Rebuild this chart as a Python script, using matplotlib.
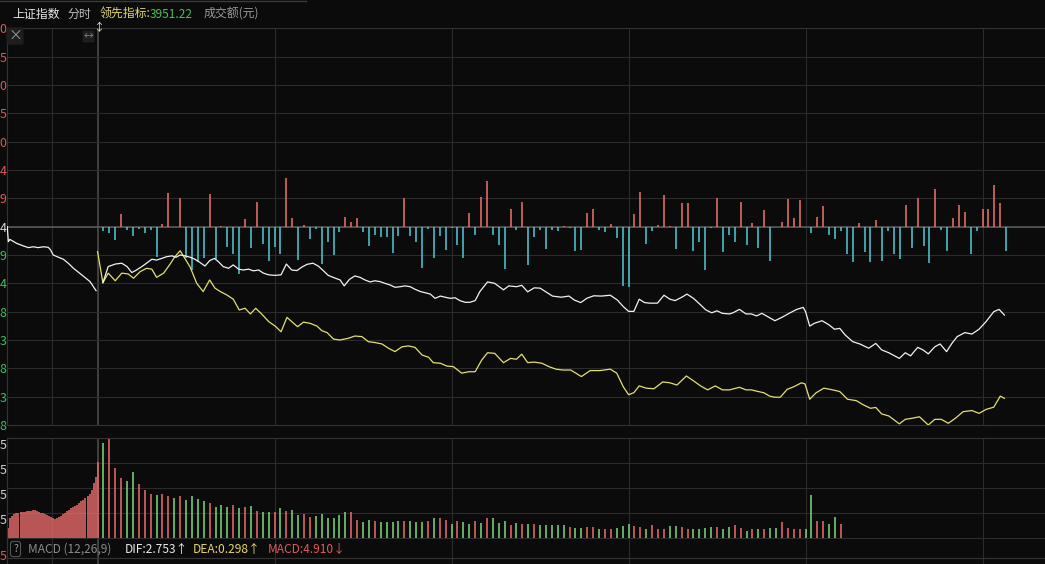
import numpy as np
import matplotlib
matplotlib.use("Agg")
import matplotlib.pyplot as plt
from matplotlib.lines import Line2D

plt.rcParams['font.family'] = ['Noto Sans CJK SC', 'DejaVu Sans']

W, H = 1045, 564
BG = '#0b0b0b'
GRID = '#2b2b2b'
RED = '#e8706a'
CYAN = '#4ec4d0'
MRED = '#ee6e6e'
MGREEN = '#7fd87f'

PX_PER_MIN = 5.9          # today's session: one minute per 5.9 px
PREV_SPAN = 15.3          # previous session squeezed into this many minute-widths


def prev_x(m):
    return -PREV_SPAN + np.asarray(m, dtype=float) * PREV_SPAN / 240.0


# ---- data ----
# previous session line: (minute of session, deviation in grid steps)
prev_line = [(0, 0.0), (2.7, -0.53), (7, -0.45), (25, -0.59), (42.6, -0.68), (56, -0.74),
             (69, -0.71), (82, -0.74), (96, -0.71), (109, -0.73), (115, -0.82), (122, -1.0),
             (136, -1.08), (149, -1.15), (162, -1.29), (176, -1.47), (193, -1.65), (209, -1.82),
             (220, -1.94), (229, -2.12), (236, -2.26)]

# today, price (white)
white_line = [
    (0.9, -1.98), (1.8, -1.41), (3.0, -1.32), (4.1, -1.29), (5.0, -1.41), (5.8, -1.62),
    (6.6, -1.53), (7.5, -1.41), (8.3, -1.29), (9.2, -1.15), (10.0, -1.18), (10.9, -1.12),
    (11.7, -1.06), (12.6, -1.03), (13.3, -1.08), (14.0, -1.00), (14.8, -1.03), (15.7, -1.08),
    (16.5, -1.15), (17.4, -1.27), (18.2, -1.39), (19.0, -1.20), (19.8, -1.12), (20.5, -1.24),
    (21.3, -1.41), (22.2, -1.47), (23.0, -1.35), (23.9, -1.50), (24.7, -1.53), (25.6, -1.50),
    (26.4, -1.56), (27.3, -1.53), (28.1, -1.64), (29.0, -1.70), (30.0, -1.72), (31.1, -1.70),
    (32.0, -1.32), (32.9, -1.53), (33.8, -1.55), (34.6, -1.43), (35.5, -1.33), (36.5, -1.29),
    (37.4, -1.39), (38.3, -1.56), (39.1, -1.72), (40.3, -1.82), (41.1, -1.88), (41.8, -2.09),
    (42.7, -1.86), (43.6, -1.74), (44.5, -1.79), (45.3, -1.88), (46.2, -1.95), (47.0, -1.91),
    (47.9, -1.94), (48.7, -2.00), (49.6, -2.06), (50.4, -2.14), (51.3, -2.12), (52.1, -2.09),
    (53.0, -2.12), (53.8, -2.21), (54.7, -2.29), (55.5, -2.33), (56.4, -2.38), (57.2, -2.53),
    (58.1, -2.45), (58.9, -2.49), (59.8, -2.53), (60.6, -2.51), (61.4, -2.61), (62.3, -2.67),
    (63.1, -2.67), (64.0, -2.61), (64.8, -2.29), (66.1, -1.95), (67.3, -2.00), (68.8, -2.23),
    (69.7, -2.09), (71.0, -2.12), (71.9, -2.07), (72.9, -2.30), (74.0, -2.16), (75.0, -2.17),
    (75.9, -2.29), (77.1, -2.45), (78.6, -2.49), (79.9, -2.45), (80.8, -2.59), (81.9, -2.68),
    (82.9, -2.53), (84.1, -2.44), (85.4, -2.45), (86.9, -2.42), (88.1, -2.59), (89.1, -2.82),
    (90.0, -2.99), (90.9, -2.99), (91.8, -2.56), (92.7, -2.68), (93.6, -2.70), (94.9, -2.70),
    (96.0, -2.42), (97.0, -2.56), (97.9, -2.61), (99.2, -2.47), (99.9, -2.38), (101.0, -2.53),
    (102.2, -2.76), (103.1, -2.94), (104.1, -3.04), (105.0, -2.97), (105.9, -3.06), (107.1, -3.08),
    (107.7, -3.04), (108.8, -2.92), (109.9, -3.08), (110.8, -3.08), (111.7, -3.15), (112.6, -3.06),
    (113.6, -3.18), (114.8, -3.32), (116.0, -3.20), (117.2, -3.06), (118.5, -2.92), (119.6, -2.85),
    (120.0, -3.00), (120.7, -3.51), (121.5, -3.41), (122.8, -3.32), (124.0, -3.47), (124.9, -3.62),
    (125.8, -3.59), (126.7, -3.82), (128.0, -4.06), (129.2, -4.14), (130.7, -4.29), (131.9, -4.12),
    (132.9, -4.35), (134.1, -4.45), (135.9, -4.65), (136.9, -4.45), (137.8, -4.56), (139.0, -4.26),
    (139.9, -4.35), (140.8, -4.49), (141.9, -4.24), (142.8, -4.14), (143.9, -4.41), (144.8, -4.12),
    (145.7, -3.88), (147.0, -3.74), (148.2, -3.79), (149.4, -3.62), (150.6, -3.35), (151.9, -3.00),
    (152.8, -2.92), (153.7, -3.12)]

# today, leading indicator (yellow)
yellow_line = [
    (0, -0.88), (0.9, -1.98), (1.8, -1.64), (3.0, -1.91), (4.1, -1.64), (5.2, -1.67), (6.1, -1.82),
    (7.2, -1.59), (8.3, -1.47), (9.2, -1.50), (10.0, -1.79), (11.2, -1.64), (12.3, -1.32),
    (13.1, -1.06), (14.0, -0.85), (14.8, -1.12), (15.7, -1.43), (16.8, -2.00), (17.9, -2.29),
    (19.0, -1.88), (19.9, -2.17), (20.8, -2.29), (21.9, -2.41), (23.0, -2.56), (24.0, -2.94),
    (25.0, -2.88), (25.9, -3.08), (26.8, -2.88), (27.8, -3.08), (29.0, -3.35), (30.1, -3.51),
    (31.1, -3.71), (32.1, -3.20), (32.9, -3.35), (33.9, -3.53), (34.9, -3.37), (36.0, -3.41),
    (37.2, -3.51), (38.0, -3.67), (38.9, -3.74), (40.0, -3.97), (41.1, -4.00), (42.5, -3.94),
    (43.6, -3.86), (44.8, -3.88), (45.9, -4.06), (47.0, -4.09), (48.2, -4.14), (49.3, -4.29),
    (50.4, -4.41), (51.6, -4.24), (52.7, -4.21), (53.8, -4.26), (55.0, -4.53), (56.1, -4.61),
    (56.9, -4.80), (58.1, -4.82), (59.2, -4.92), (60.3, -4.94), (61.7, -5.17), (62.9, -5.12),
    (64.0, -5.12), (65.1, -4.71), (66.1, -4.45), (67.3, -4.47), (68.8, -4.80), (70.0, -4.65),
    (71.0, -4.68), (71.9, -4.50), (72.9, -4.80), (74.0, -4.78), (75.3, -4.82), (76.5, -4.94),
    (77.7, -5.03), (78.9, -5.06), (80.2, -5.06), (82.0, -5.29), (83.5, -5.08), (85.1, -5.08),
    (86.9, -5.03), (88.0, -5.17), (89.1, -5.65), (90.0, -5.93), (90.9, -5.86), (91.8, -5.62),
    (93.0, -5.70), (94.3, -5.72), (95.8, -5.48), (97.0, -5.51), (98.2, -5.59), (99.8, -5.27),
    (101.0, -5.44), (102.2, -5.62), (103.4, -5.76), (104.7, -5.62), (105.9, -5.76), (107.1, -5.76),
    (108.8, -5.67), (109.9, -5.76), (110.8, -5.76), (112.0, -5.82), (112.9, -5.86), (113.9, -5.98),
    (114.8, -6.02), (115.7, -6.02), (116.9, -5.74), (118.0, -5.65), (119.3, -5.51), (119.9, -5.55),
    (120.7, -6.09), (121.8, -5.86), (123.1, -5.70), (124.6, -5.76), (125.8, -5.82), (127.1, -6.09),
    (128.6, -6.14), (129.8, -6.29), (131.0, -6.41), (131.9, -6.38), (132.9, -6.61), (134.1, -6.68),
    (135.9, -6.96), (136.9, -6.80), (138.1, -6.76), (139.3, -6.71), (140.8, -7.00), (141.9, -6.80),
    (143.0, -6.80), (144.2, -6.94), (145.4, -6.76), (146.7, -6.53), (148.2, -6.49), (149.4, -6.59),
    (150.6, -6.45), (151.9, -6.37), (153.0, -5.98), (153.7, -6.06)]

# per-minute bars in the main panel, minutes 1..154
flow_bars = [
    -0.14, -0.21, -0.46, 0.45, -0.11, -0.32, -0.07, -0.21, -0.11, -1.08,
    0.10, 1.20, -0.02, 1.02, -1.09, -1.52, -1.26, -1.09, 1.15, -1.13,
    0.04, -0.71, -0.95, -1.66, 0.26, -0.77, 0.88, -0.60, -1.20, -0.71,
    -0.96, 1.73, 0.29, -1.19, 0.06, -0.45, -0.08, -1.33, -0.54, -0.99,
    -0.18, 0.34, 0.17, 0.29, -0.18, -0.67, -0.29, -0.35, -0.38, -0.92,
    -0.33, 1.00, -0.33, -0.53, -1.45, -0.10, -1.09, -0.33, -0.84, -0.04,
    -0.65, -1.09, 0.49, -0.29, 1.05, 1.62, -0.29, -0.65, -1.49, 0.62,
    -0.12, 0.88, -1.35, -0.35, -0.12, -0.79, -0.12, -0.14, 0.04, -0.06,
    -0.86, -0.82, 0.49, 0.62, -0.12, -0.18, 0.10, -0.39, -2.08, -2.12,
    0.45, 1.24, -0.61, -0.15, 0.06, 1.12, 0.02, -0.79, 0.84, 0.84,
    -0.86, -0.54, -1.53, -0.06, 1.01, -0.89, -0.29, -0.54, 0.87, -0.66,
    0.12, -0.77, 0.59, -1.21, 0.00, 0.17, 0.96, 0.29, 0.93, 0.00,
    -0.21, 0.34, 0.73, -0.31, -0.45, -0.15, -0.98, -1.25, 0.12, -0.89,
    -1.25, 0.22, -1.21, -0.15, -0.98, -1.13, 0.75, -0.77, 1.01, -0.68,
    -1.27, 1.32, -0.13, -0.86, 0.31, 0.77, 0.52, -0.98, -0.15, 0.61,
    0.61, 1.47, 0.82, -0.86]

# MACD histogram, previous session (all red)
prev_macd = [0.54, 1.00, 1.13, 1.20, 1.25, 1.28, 1.30, 1.31, 1.33, 1.34, 1.35, 1.36, 1.40, 1.39,
             1.35, 1.33, 1.28, 1.25, 1.20, 1.15, 1.10, 1.05, 1.01, 0.99, 1.03, 1.08, 1.13, 1.20,
             1.28, 1.35, 1.43, 1.50, 1.56, 1.63, 1.68, 1.75, 1.84, 1.93, 2.00, 2.13, 2.23, 2.40,
             2.75, 3.06, 3.79]
prev_macd_min = np.arange(len(prev_macd)) * 5.4 + 2.7

# MACD histogram, today minutes 1..126
macd = [
    4.76, 5.00, 3.51, 3.01, 2.85, 3.30, 2.70, 2.41, 2.21, 2.14,
    2.21, 2.09, 2.01, 2.10, 1.89, 2.11, 1.96, 1.84, 1.76, 1.55,
    1.66, 1.55, 1.64, 1.50, 1.55, 1.60, 1.35, 1.30, 1.30, 1.30,
    1.50, 1.35, 1.40, 1.16, 1.21, 1.05, 1.10, 1.21, 1.00, 1.00,
    1.16, 1.30, 1.30, 0.94, 0.84, 0.94, 0.89, 0.80, 0.80, 0.80,
    0.89, 0.85, 0.85, 0.80, 0.84, 0.89, 1.00, 1.00, 0.94, 0.70,
    0.89, 0.84, 0.70, 0.89, 0.79, 1.00, 1.00, 0.79, 0.89, 0.66,
    0.79, 0.71, 0.70, 0.74, 0.66, 0.66, 0.65, 0.66, 0.66, 0.59,
    0.54, 0.54, 0.59, 0.59, 0.45, 0.45, 0.49, 0.54, 0.64, 0.71,
    0.64, 0.55, 0.49, 0.66, 0.45, 0.49, 0.61, 0.60, 0.59, 0.49,
    0.49, 0.45, 0.54, 0.56, 0.59, 0.46, 0.59, 0.66, 0.54, 0.36,
    0.46, 0.46, 0.46, 0.50, 0.54, 0.84, 0.54, 0.45, 0.45, 0.46,
    2.14, 0.89, 0.89, 0.71, 1.05, 0.71]
macd_side = ("grrrggrrrg" "rrgrggggrg" "ggrgrgrggr" "grggrrgggg" "ggrrggrggg"
             "grgggrgrrg" "rggrgrgggr" "grgrgggggr" "ggrrgrrggg" "rrgrrrggrr"
             "ggggrggrrg" "rgrggrrrrg" "grrggr")

# only the last digit of each scale label is left inside the picture
price_labels = ['0', '5', '0', '5', '0', '4', '9', '4', '9', '4', '8', '3', '8', '3', '8']
macd_labels = ['5', '5', '5', '5']

# ---- figure ----
fig = plt.figure(figsize=(W / 100, H / 100), dpi=100, facecolor=BG)


def px_rect(x0, y0, x1, y1):
    return [x0 / W, 1 - y1 / H, (x1 - x0) / W, (y1 - y0) / H]


t_left = -PREV_SPAN
t_right = t_left + (W - 7.3) / PX_PER_MIN
vgrid = [float(prev_x(120)), 30, 60, 90, 120, 150]

ax = fig.add_axes(px_rect(7.3, 28.3, W, 425))
axm = fig.add_axes(px_rect(7.3, 438.3, W, H))

for a in (ax, axm):
    a.set_facecolor(BG)
    a.set_xlim(t_left, t_right)
    a.set_xticks([])
    for s in a.spines.values():
        s.set_color('#333333')
        s.set_linewidth(0.8)
    a.spines['right'].set_visible(False)
    for t in vgrid:
        a.axvline(t, color=GRID, lw=0.8, zorder=0)
    a.axvline(0, color='#454545', lw=1.3, zorder=0)
    a.tick_params(axis='y', length=0, pad=0.6, labelsize=9)

# main panel
ax.set_ylim(-7, 7)
for v in range(-6, 7):
    ax.axhline(v, color=GRID, lw=0.8, zorder=0)
ax.axhline(0, color='#5e5e5e', lw=1.1, zorder=1)

px, pv = np.array(prev_line).T
ax.plot(prev_x(px), pv, color='#f2f2f2', lw=0.9, zorder=3)

fb = np.array(flow_bars)
fi = np.arange(1, len(fb) + 1)
ax.vlines(fi, 0, fb, colors=np.where(fb > 0, RED, CYAN), lw=1.15, zorder=2)

wt, wv = np.array(white_line).T
ax.plot(wt, wv, color='#f2f2f2', lw=0.9, zorder=4)
yt, yv = np.array(yellow_line).T
ax.plot(yt, yv, color='#e4e06e', lw=0.9, zorder=3)

ax.set_yticks(range(7, -8, -1))
ax.set_yticklabels(price_labels)
for lab, v in zip(ax.get_yticklabels(), range(7, -8, -1)):
    lab.set_color('#e05a5a' if v > 0 else ('#d8d8d8' if v == 0 else '#3fbf5f'))

# MACD panel
axm.set_ylim(-1.285, 5.0)
for v in (3.75, 2.5, 1.25, 0):
    axm.axhline(v, color=GRID, lw=0.8, zorder=0)
axm.axhline(-0.96, color='#333333', lw=0.8, zorder=0)

axm.vlines(prev_x(prev_macd_min), 0, prev_macd, colors=MRED, lw=1.1, zorder=2)
mv = np.array(macd)
mi = np.arange(1, len(mv) + 1)
axm.vlines(mi, 0, mv, colors=[MRED if c == 'r' else MGREEN for c in macd_side], lw=1.1, zorder=2)

axm.set_yticks([4.95, 3.7, 2.45, 1.2])
axm.set_yticklabels(macd_labels)
for lab in axm.get_yticklabels():
    lab.set_color('#d0d0d0')
    lab.set_va('top')

# ---- texts ----
def ftext(x, y, s, **kw):
    return fig.text(x / W, 1 - y / H, s, va='center', **kw)


ftext(12, 14, '上证指数', color='#e6e6e6', fontsize=8.6)
ftext(68, 14, '分时', color='#bdbdbd', fontsize=8.6)
ftext(100, 14, '领先指标:', color='#ded66e', fontsize=8.6)
ftext(150, 14, '3951.22', color='#4cbf5c', fontsize=8.6)
ftext(204, 14, '成交额(元)', color='#9a9a9a', fontsize=8.6)
fig.add_artist(Line2D([0, 306 / W], [1 - 1 / H, 1 - 1 / H], color='#3a3a3a', lw=1))

ftext(15, 36, '×', color='#9a9a9a', fontsize=10, ha='center',
      bbox=dict(boxstyle='round,pad=0.12', fc='#1e1e1e', ec='none'))
ftext(88.5, 36.5, '↔', color='#8a8a8a', fontsize=7, ha='center',
      bbox=dict(boxstyle='round,pad=0.1', fc='#1e1e1e', ec='none'))
ftext(99, 28, '↕', color='#dcdcdc', fontsize=8, ha='center')

ftext(15.5, 549, '?', color='#9a9a9a', fontsize=7.5, ha='center',
      bbox=dict(boxstyle='round,pad=0.25', fc=BG, ec='#555555', lw=0.8))
ftext(28, 549, 'MACD (12,26,9)', color='#8a8a8a', fontsize=8.6)
ftext(125, 549, 'DIF:2.753↑', color='#eaeaea', fontsize=8.6)
ftext(193, 549, 'DEA:0.298↑', color='#e6d85c', fontsize=8.6)
ftext(268, 549, 'MACD:4.910↓', color='#e05a5a', fontsize=8.6)
ftext(6.5, 556.5, '5', color='#e05a5a', fontsize=9, ha='right')

fig.savefig('out.png', dpi=100, facecolor=BG)
